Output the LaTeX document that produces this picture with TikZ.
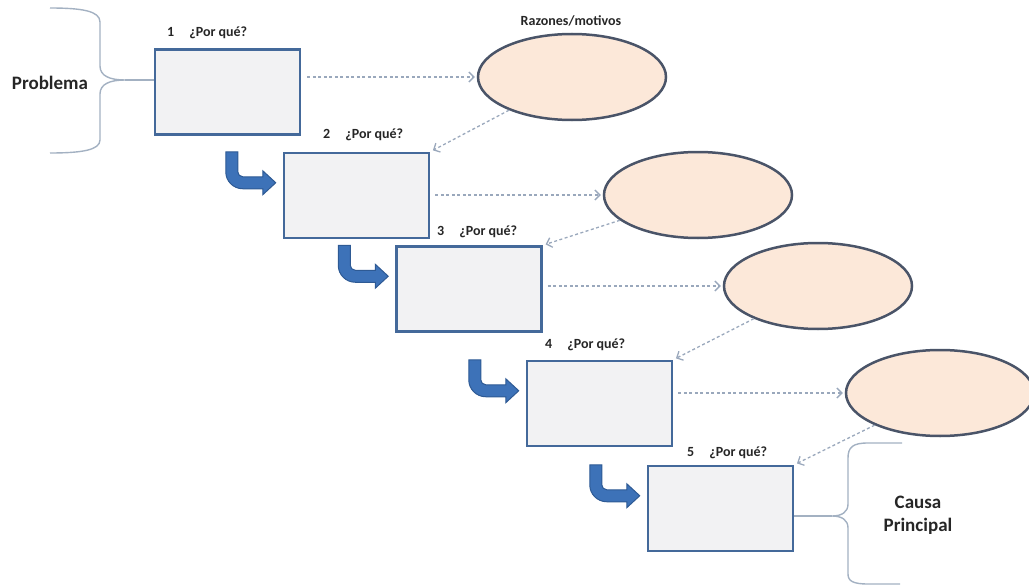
\documentclass[tikz,border=0pt]{standalone}
\usepackage{fontspec}
\setmainfont{Carlito}
\usetikzlibrary{arrows.meta,shapes.geometric}
\definecolor{boxfill}{HTML}{F2F2F3}
\definecolor{boxline}{HTML}{44699A}
\definecolor{ellfill}{HTML}{FCE8D9}
\definecolor{ellline}{HTML}{4A5468}
\definecolor{bluefill}{HTML}{3D72B8}
\definecolor{blueline}{HTML}{2E5A94}
\definecolor{dashcol}{HTML}{9AA8BC}
\definecolor{bracecol}{HTML}{A3B1C2}
\definecolor{txt}{HTML}{262626}
\tikzset{
  whybox/.style={draw=boxline, fill=boxfill, line width=2.5pt, minimum width=145pt, minimum height=85pt, inner sep=0pt},
  reason/.style={draw=ellline, fill=ellfill, line width=2.5pt, ellipse, minimum width=188pt, minimum height=86pt, inner sep=0pt},
  dasharrow/.style={draw=dashcol, line width=1.3pt, dash pattern=on 3pt off 2.5pt, -{Straight Barb[length=5pt,width=10pt]}},
  bracestyle/.style={draw=bracecol, line width=1.4pt},
  small/.style={font=\bfseries\fontsize{14}{16}\selectfont, text=txt, inner sep=0pt},
  big/.style={font=\bfseries\fontsize{19}{24}\selectfont, text=txt, inner sep=0pt, align=center},
  bentarrow/.pic={
    \filldraw[fill=bluefill, draw=blueline, line width=1pt]
      (0,0) -- (12,0) [rounded corners=5pt] -- (12,25) [sharp corners] -- (37,25) -- (37,19) -- (50,31) -- (37,43) -- (37,37) [rounded corners=17pt] -- (0,37) [sharp corners] -- cycle;
  }
}
\begin{document}
\begin{tikzpicture}[x=1pt,y=-1pt]
\useasboundingbox (0,0) rectangle (1029,586);
\clip (0,0) rectangle (1029,586);
% boxes
\node[whybox] (b1) at (227.5,92) {};
\node[whybox] (b2) at (356.5,195.5) {};
\node[whybox] (b3) at (469,289) {};
\node[whybox] (b4) at (599.5,403.5) {};
\node[whybox] (b5) at (720.5,508.5) {};
% ellipses
\node[reason] (e1) at (572,77) {};
\node[reason] (e2) at (698,195) {};
\node[reason] (e3) at (818,286) {};
\node[reason] (e4) at (940,393) {};
% labels
\node[small, anchor=west] (l1) at (167,33) {1\hskip 15pt ¿Por qué?};
\node[small, anchor=west] (l2) at (323,135) {2\hskip 15pt ¿Por qué?};
\node[small, anchor=west] (l3) at (437,232) {3\hskip 15pt ¿Por qué?};
\node[small, anchor=west] (l4) at (545,345) {4\hskip 15pt ¿Por qué?};
\node[small, anchor=west] (l5) at (687,453) {5\hskip 15pt ¿Por qué?};
\node[small] (rm) at (571,21) {Razones/motivos};
% dashed arrows
\draw[dasharrow, shorten <=6pt, shorten >=2pt] (b1.east |- e1.west) -- (e1.west);
\draw[dasharrow, shorten >=3pt] (e1) -- (b2.north east);
\draw[dasharrow, shorten <=5pt, shorten >=2pt] (b2.east |- e2.west) -- (e2.west);
\draw[dasharrow, shorten >=3pt] (e2) -- (b3.north east);
\draw[dasharrow, shorten <=5pt, shorten >=2pt] (b3.east |- e3.west) -- (e3.west);
\draw[dasharrow, shorten >=3pt] (e3) -- (b4.north east);
\draw[dasharrow, shorten <=5pt, shorten >=2pt] (b4.east |- e4.west) -- (e4.west);
\draw[dasharrow, shorten >=3pt] (e4) -- (b5.north east);
% bent arrows
\pic at ([xshift=-57pt]b2.north west) {bentarrow};
\pic at ([xshift=-57pt]b3.north west) {bentarrow};
\pic at ([xshift=-57pt]b4.north west) {bentarrow};
\pic at ([xshift=-57pt]b5.north west) {bentarrow};
% left brace
\coordinate (ltip) at (125,80);
\draw[bracestyle] (50,8) .. controls (82,8) and (100,11) .. (100,22) -- (100,66) .. controls (100,76) and (110,80) .. (ltip) .. controls (110,80) and (100,84) .. (100,94) -- (100,140) .. controls (100,150) and (82,153) .. (50,153);
\draw[bracestyle] (ltip) -- (b1.west |- ltip);
\node[big] (prob) at (50,83) {Problema};
% right brace
\coordinate (rtip) at (832,516);
\draw[bracestyle] (902,443) -- (868,443) .. controls (853,443) and (848,447) .. (848,458) -- (848,504) .. controls (848,512) and (842,516) .. (rtip) .. controls (842,516) and (848,520) .. (848,528) -- (848,574) .. controls (848,581) and (853,584) .. (868,584) -- (900,584);
\draw[bracestyle] (rtip) -- (b5.east |- rtip);
\node[big] (causa) at (918,515) {Causa\\[-1pt]Principal};
\end{tikzpicture}
\end{document}
